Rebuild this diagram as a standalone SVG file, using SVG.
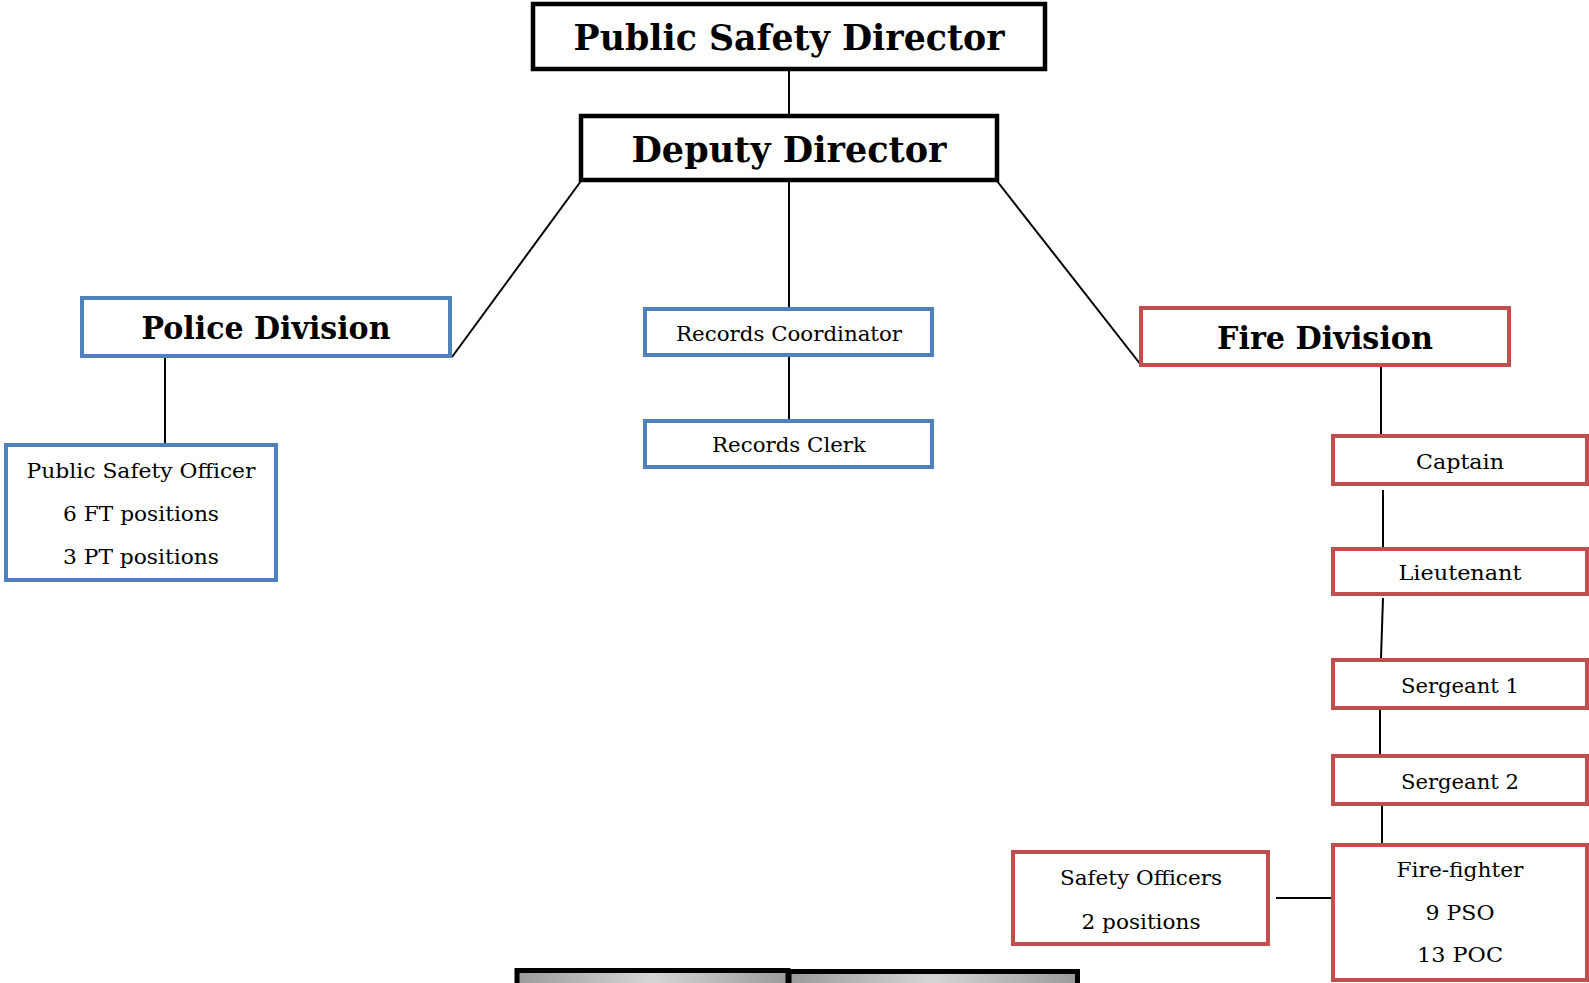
<svg xmlns="http://www.w3.org/2000/svg" width="1589" height="983" viewBox="0 0 1589 983">
<style>
.blk{fill:#fff;stroke:#000;stroke-width:4.5}
.blue{fill:#fff;stroke:#4F81BD;stroke-width:4}
.red{fill:#fff;stroke:#C0504D;stroke-width:4}
.t1{font-family:"DejaVu Serif","Liberation Serif",serif;font-weight:bold;fill:#000;text-anchor:middle}
.t2{font-family:"DejaVu Serif","Liberation Serif",serif;font-size:21px;fill:#000;text-anchor:middle}
.c{stroke:#000;stroke-width:2;fill:none}
</style>
<defs>
<linearGradient id="gr" x1="0" y1="0" x2="1" y2="0">
<stop offset="0" stop-color="#9a9a9a"/>
<stop offset="0.5" stop-color="#d6d6d6"/>
<stop offset="1" stop-color="#9a9a9a"/>
</linearGradient>
</defs>
<g id="connectors">
<line class="c" x1="789" y1="71" x2="789" y2="116"/>
<line class="c" x1="581" y1="181" x2="452" y2="357" stroke-width="1.6"/>
<line class="c" x1="789" y1="182" x2="789" y2="307"/>
<line class="c" x1="789" y1="357" x2="789" y2="419"/>
<line class="c" x1="997" y1="181" x2="1141" y2="365" stroke-width="1.6"/>
<line class="c" x1="165" y1="357" x2="165" y2="443"/>
<line class="c" x1="1381" y1="367" x2="1381" y2="434"/>
<line class="c" x1="1383" y1="490" x2="1383" y2="547"/>
<line class="c" x1="1383" y1="598" x2="1381" y2="658"/>
<line class="c" x1="1380" y1="710" x2="1380" y2="754"/>
<line class="c" x1="1382" y1="806" x2="1382" y2="843"/>
<line class="c" x1="1276" y1="898" x2="1331" y2="898"/>
</g>
<g id="psd">
<rect class="blk" x="533" y="4" width="512" height="65"/>
<text class="t1" x="789" y="50" font-size="35" textLength="431" lengthAdjust="spacingAndGlyphs">Public Safety Director</text>
</g>
<g id="deputy">
<rect class="blk" x="581" y="116" width="416" height="64"/>
<text class="t1" x="789" y="162" font-size="35" textLength="315" lengthAdjust="spacingAndGlyphs">Deputy Director</text>
</g>
<g id="police">
<rect class="blue" x="82" y="298" width="368" height="58"/>
<text class="t1" x="266" y="339" font-size="31" textLength="249" lengthAdjust="spacingAndGlyphs">Police Division</text>
</g>
<g id="pso">
<rect class="blue" x="6" y="445" width="270" height="135"/>
<text class="t2" x="141" y="478" textLength="229" lengthAdjust="spacingAndGlyphs">Public Safety Officer</text>
<text class="t2" x="141" y="521" textLength="156" lengthAdjust="spacingAndGlyphs">6 FT positions</text>
<text class="t2" x="141" y="564" textLength="156" lengthAdjust="spacingAndGlyphs">3 PT positions</text>
</g>
<g id="records-coordinator">
<rect class="blue" x="645" y="309" width="287" height="46"/>
<text class="t2" x="789" y="341" textLength="226" lengthAdjust="spacingAndGlyphs">Records Coordinator</text>
</g>
<g id="records-clerk">
<rect class="blue" x="645" y="421" width="287" height="46"/>
<text class="t2" x="789" y="452" textLength="154" lengthAdjust="spacingAndGlyphs">Records Clerk</text>
</g>
<g id="fire">
<rect class="red" x="1141" y="308" width="368" height="57"/>
<text class="t1" x="1325" y="349" font-size="31" textLength="216" lengthAdjust="spacingAndGlyphs">Fire Division</text>
</g>
<g id="captain">
<rect class="red" x="1333" y="436" width="254" height="48"/>
<text class="t2" x="1460" y="469" textLength="88" lengthAdjust="spacingAndGlyphs">Captain</text>
</g>
<g id="lieutenant">
<rect class="red" x="1333" y="549" width="254" height="45"/>
<text class="t2" x="1460" y="580" textLength="123" lengthAdjust="spacingAndGlyphs">Lieutenant</text>
</g>
<g id="sergeant1">
<rect class="red" x="1333" y="660" width="254" height="48"/>
<text class="t2" x="1460" y="693" textLength="118" lengthAdjust="spacingAndGlyphs">Sergeant 1</text>
</g>
<g id="sergeant2">
<rect class="red" x="1333" y="756" width="254" height="48"/>
<text class="t2" x="1460" y="789" textLength="118" lengthAdjust="spacingAndGlyphs">Sergeant 2</text>
</g>
<g id="firefighter">
<rect class="red" x="1333" y="845" width="254" height="135"/>
<text class="t2" x="1460" y="877" textLength="127" lengthAdjust="spacingAndGlyphs">Fire-fighter</text>
<text class="t2" x="1460" y="920" textLength="69" lengthAdjust="spacingAndGlyphs">9 PSO</text>
<text class="t2" x="1460" y="962" textLength="86" lengthAdjust="spacingAndGlyphs">13 POC</text>
</g>
<g id="safety-officers">
<rect class="red" x="1013" y="852" width="255" height="92"/>
<text class="t2" x="1141" y="885" textLength="162" lengthAdjust="spacingAndGlyphs">Safety Officers</text>
<text class="t2" x="1141" y="929" textLength="119" lengthAdjust="spacingAndGlyphs">2 positions</text>
</g>
<g id="bottom-left">
<rect x="517" y="970.5" width="271" height="25" fill="url(#gr)" stroke="#000" stroke-width="5"/>
</g>
<g id="bottom-right">
<rect x="789" y="971.5" width="288.5" height="25" fill="url(#gr)" stroke="#000" stroke-width="5"/>
</g>
</svg>
